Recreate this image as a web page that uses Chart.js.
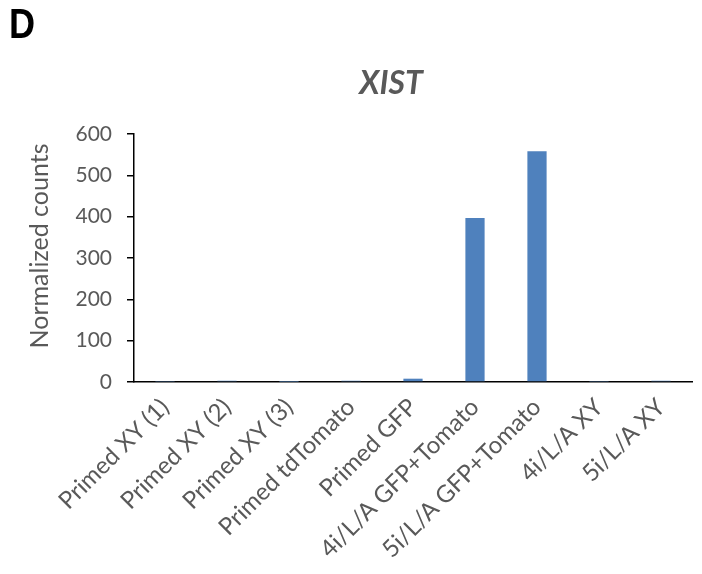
<!DOCTYPE html>
<html>
<head>
<meta charset="utf-8">
<script src="https://cdn.jsdelivr.net/npm/chart.js@4.4.1/dist/chart.umd.min.js"></script>
<style>
  html, body { margin: 0; padding: 0; background: #ffffff; }
  #wrap { position: relative; width: 702px; height: 574px; }
</style>
</head>
<body>
<div id="wrap"><canvas id="c" width="702" height="574"></canvas></div>
<script>
// Sample groups and XIST expression (normalized counts)
const categories = [
  'Primed XY (1)', 'Primed XY (2)', 'Primed XY (3)', 'Primed tdTomato',
  'Primed GFP', '4i/L/A GFP+Tomato', '5i/L/A GFP+Tomato', '4i/L/A XY', '5i/L/A XY'
];
const xistCounts = [1, 3, 0.5, 3, 8, 397, 558, 1, 3];
const yTicks = [0, 100, 200, 300, 400, 500, 600];
const panelLetter = 'D';
const chartTitle = 'XIST';
const yAxisTitle = 'Normalized counts';

const textGray = '#595959';
const fontFamily = 'Lato, "Open Sans", sans-serif';

// Panel letter, gene title and y-axis title drawn on the canvas
const headerPlugin = {
  id: 'header',
  afterDraw(chart) {
    const ctx = chart.ctx;
    ctx.save();
    ctx.fillStyle = '#000000';
    ctx.font = 'bold 42px "Liberation Sans", Arial, sans-serif';
    ctx.textAlign = 'left';
    ctx.textBaseline = 'alphabetic';
    ctx.save();
    ctx.translate(9, 38);
    ctx.scale(0.86, 1);
    ctx.fillText(panelLetter, 0, 0);
    ctx.restore();

    ctx.fillStyle = textGray;
    ctx.font = 'italic bold 32px ' + fontFamily;
    ctx.textAlign = 'center';
    ctx.fillText(chartTitle, 391, 94);

    ctx.font = '25px ' + fontFamily;
    ctx.textBaseline = 'middle';
    ctx.translate(40, 246);
    ctx.rotate(-Math.PI / 2);
    ctx.fillText(yAxisTitle, 0, 0);
    ctx.restore();
  }
};

new Chart(document.getElementById('c'), {
  type: 'bar',
  data: {
    labels: categories,
    datasets: [{
      label: chartTitle,
      data: xistCounts,
      backgroundColor: '#4F81BD',
      borderWidth: 0,
      barPercentage: 0.62,
      categoryPercentage: 0.5
    }]
  },
  options: {
    responsive: false,
    animation: false,
    devicePixelRatio: 1,
    layout: { padding: { top: 134, right: 10, left: 0, bottom: 0 } },
    plugins: {
      legend: { display: false },
      title: { display: false },
      tooltip: { enabled: false }
    },
    scales: {
      x: {
        grid: { display: false },
        border: { display: true, color: '#000000', width: 1.5 },
        ticks: {
          color: textGray,
          font: { family: fontFamily, size: 24 },
          minRotation: 45,
          maxRotation: 45,
          padding: 3,
          autoSkip: false
        },
        afterFit(scale) { scale.height = 192; }
      },
      y: {
        min: 0,
        max: 600,
        afterBuildTicks(scale) { scale.ticks = yTicks.map(v => ({ value: v })); },
        grid: {
          drawOnChartArea: false,
          drawTicks: true,
          tickLength: 7,
          color: '#000000',
          lineWidth: 1.5
        },
        border: { display: true, color: '#000000', width: 1.5 },
        ticks: {
          color: textGray,
          font: { family: fontFamily, size: 21 },
          padding: 15
        },
        title: { display: false },
        afterFit(scale) { scale.width = 134; }
      }
    }
  },
  plugins: [headerPlugin]
});
</script>
</body>
</html>
